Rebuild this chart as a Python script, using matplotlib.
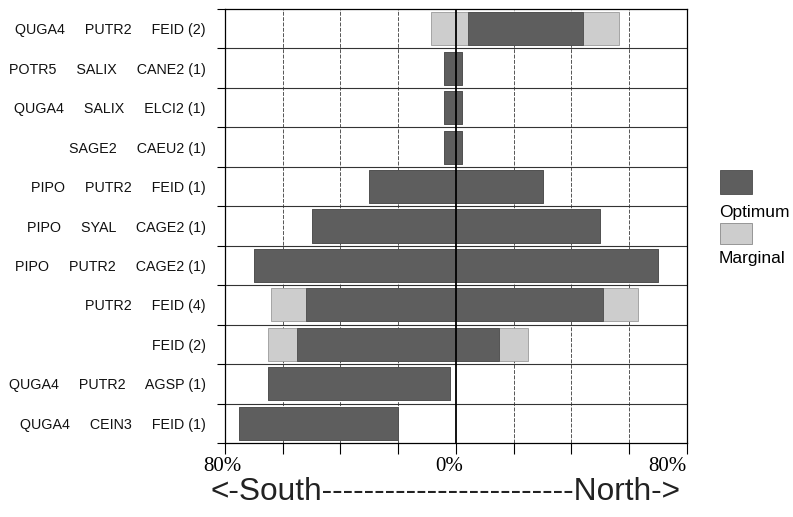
import numpy as np
import matplotlib
matplotlib.use("Agg")
import matplotlib.pyplot as plt
from matplotlib.patches import Rectangle
from matplotlib.transforms import ScaledTranslation

# rows, top to bottom
labels = [
    "QUGA4     PUTR2     FEID (2)",
    "POTR5     SALIX     CANE2 (1)",
    "QUGA4     SALIX     ELCI2 (1)",
    "SAGE2     CAEU2 (1)",
    "PIPO     PUTR2     FEID (1)",
    "PIPO     SYAL     CAGE2 (1)",
    "PIPO     PUTR2     CAGE2 (1)",
    "PUTR2     FEID (4)",
    "FEID (2)",
    "QUGA4     PUTR2     AGSP (1)",
    "QUGA4     CEIN3     FEID (1)",
]
# percent, negative = south, positive = north
opt_lo = [4, -4, -4, -4, -30, -50, -70, -52, -55, -65, -75]
opt_hi = [44, 2, 2, 2, 30, 50, 70, 51, 15, -2, -20]
marg_lo = [-8.5, -4, -4, -4, -30, -50, -70, -64, -65, -65, -75]
marg_hi = [56.5, 2, 2, 2, 30, 50, 70, 63, 25, -2, -20]

opt_color = "#5e5e5e"
marg_color = "#cdcdcd"

plt.rcParams["font.family"] = ["Liberation Sans", "DejaVu Sans"]

fig = plt.figure(figsize=(7.93, 5.17), dpi=100)
ax = fig.add_axes([0.2837, 0.1431, 0.5826, 0.8395])

n = len(labels)
y = np.arange(n)
h = 0.84

ml = np.array(marg_lo)
mh = np.array(marg_hi)
ol = np.array(opt_lo)
oh = np.array(opt_hi)

ax.barh(y, mh - ml, left=ml, height=h, color=marg_color, edgecolor="#9a9a9a",
        linewidth=0.6, zorder=2)
ax.barh(y, oh - ol, left=ol, height=h, color=opt_color, edgecolor="#4a4a4a",
        linewidth=0.6, zorder=3)

ax.axvline(0, color="black", linewidth=1.3, zorder=4)

ax.set_xlim(-80, 80)
ax.set_ylim(n - 0.5, -0.5)

# vertical grid every 20%
for xv in range(-60, 80, 20):
    if xv != 0:
        ax.axvline(xv, color="#555555", linewidth=0.7, linestyle=(0, (4, 1.5)), zorder=1)
# row separators
for b in np.arange(0.5, n - 0.5, 1):
    ax.axhline(b, color="#333333", linewidth=0.8, zorder=1)

ax.set_yticks(y)
ax.set_yticklabels(labels, fontsize=10.3, color="#111111")
ax.set_yticks(np.arange(-0.5, n, 1), minor=True)
ax.tick_params(axis="y", which="major", length=0, pad=14)
ax.tick_params(axis="y", which="minor", length=6, width=0.8, direction="out")

ax.set_xticks(np.arange(-80, 81, 20))
xt = ["" for _ in range(9)]
xt[0], xt[4], xt[8] = "80%", "0%", "80%"
ax.set_xticklabels(xt, fontsize=15, family=["Liberation Serif", "DejaVu Serif"])
ax.tick_params(axis="x", length=8, width=0.8, direction="out", pad=2)
xlabs = ax.get_xticklabels()
xlabs[8].set_horizontalalignment("right")
xlabs[4].set_transform(xlabs[4].get_transform() + ScaledTranslation(-0.07, 0, fig.dpi_scale_trans))
xlabs[0].set_transform(xlabs[0].get_transform() + ScaledTranslation(-0.03, 0, fig.dpi_scale_trans))

for s in ax.spines.values():
    s.set_color("black")
    s.set_linewidth(0.9)

fig.text(446 / 793, 1 - 492 / 517, "<-South" + "-" * 24 + "North->",
         fontsize=22.8, ha="center", va="center", color="#222222")

# legend swatches
fig.patches.append(Rectangle((720 / 793, 1 - 194 / 517), 32 / 793, 24 / 517,
                             transform=fig.transFigure, facecolor=opt_color,
                             edgecolor="#4a4a4a", linewidth=0.6))
fig.text(719 / 793, 1 - 212 / 517, "Optimum", fontsize=12.5, ha="left", va="center")
fig.patches.append(Rectangle((720 / 793, 1 - 244 / 517), 32 / 793, 21 / 517,
                             transform=fig.transFigure, facecolor=marg_color,
                             edgecolor="#8a8a8a", linewidth=0.6))
fig.text(719 / 793, 1 - 259 / 517, "Marginal", fontsize=12.5, ha="left", va="center")

fig.savefig("out.png", dpi=100)
